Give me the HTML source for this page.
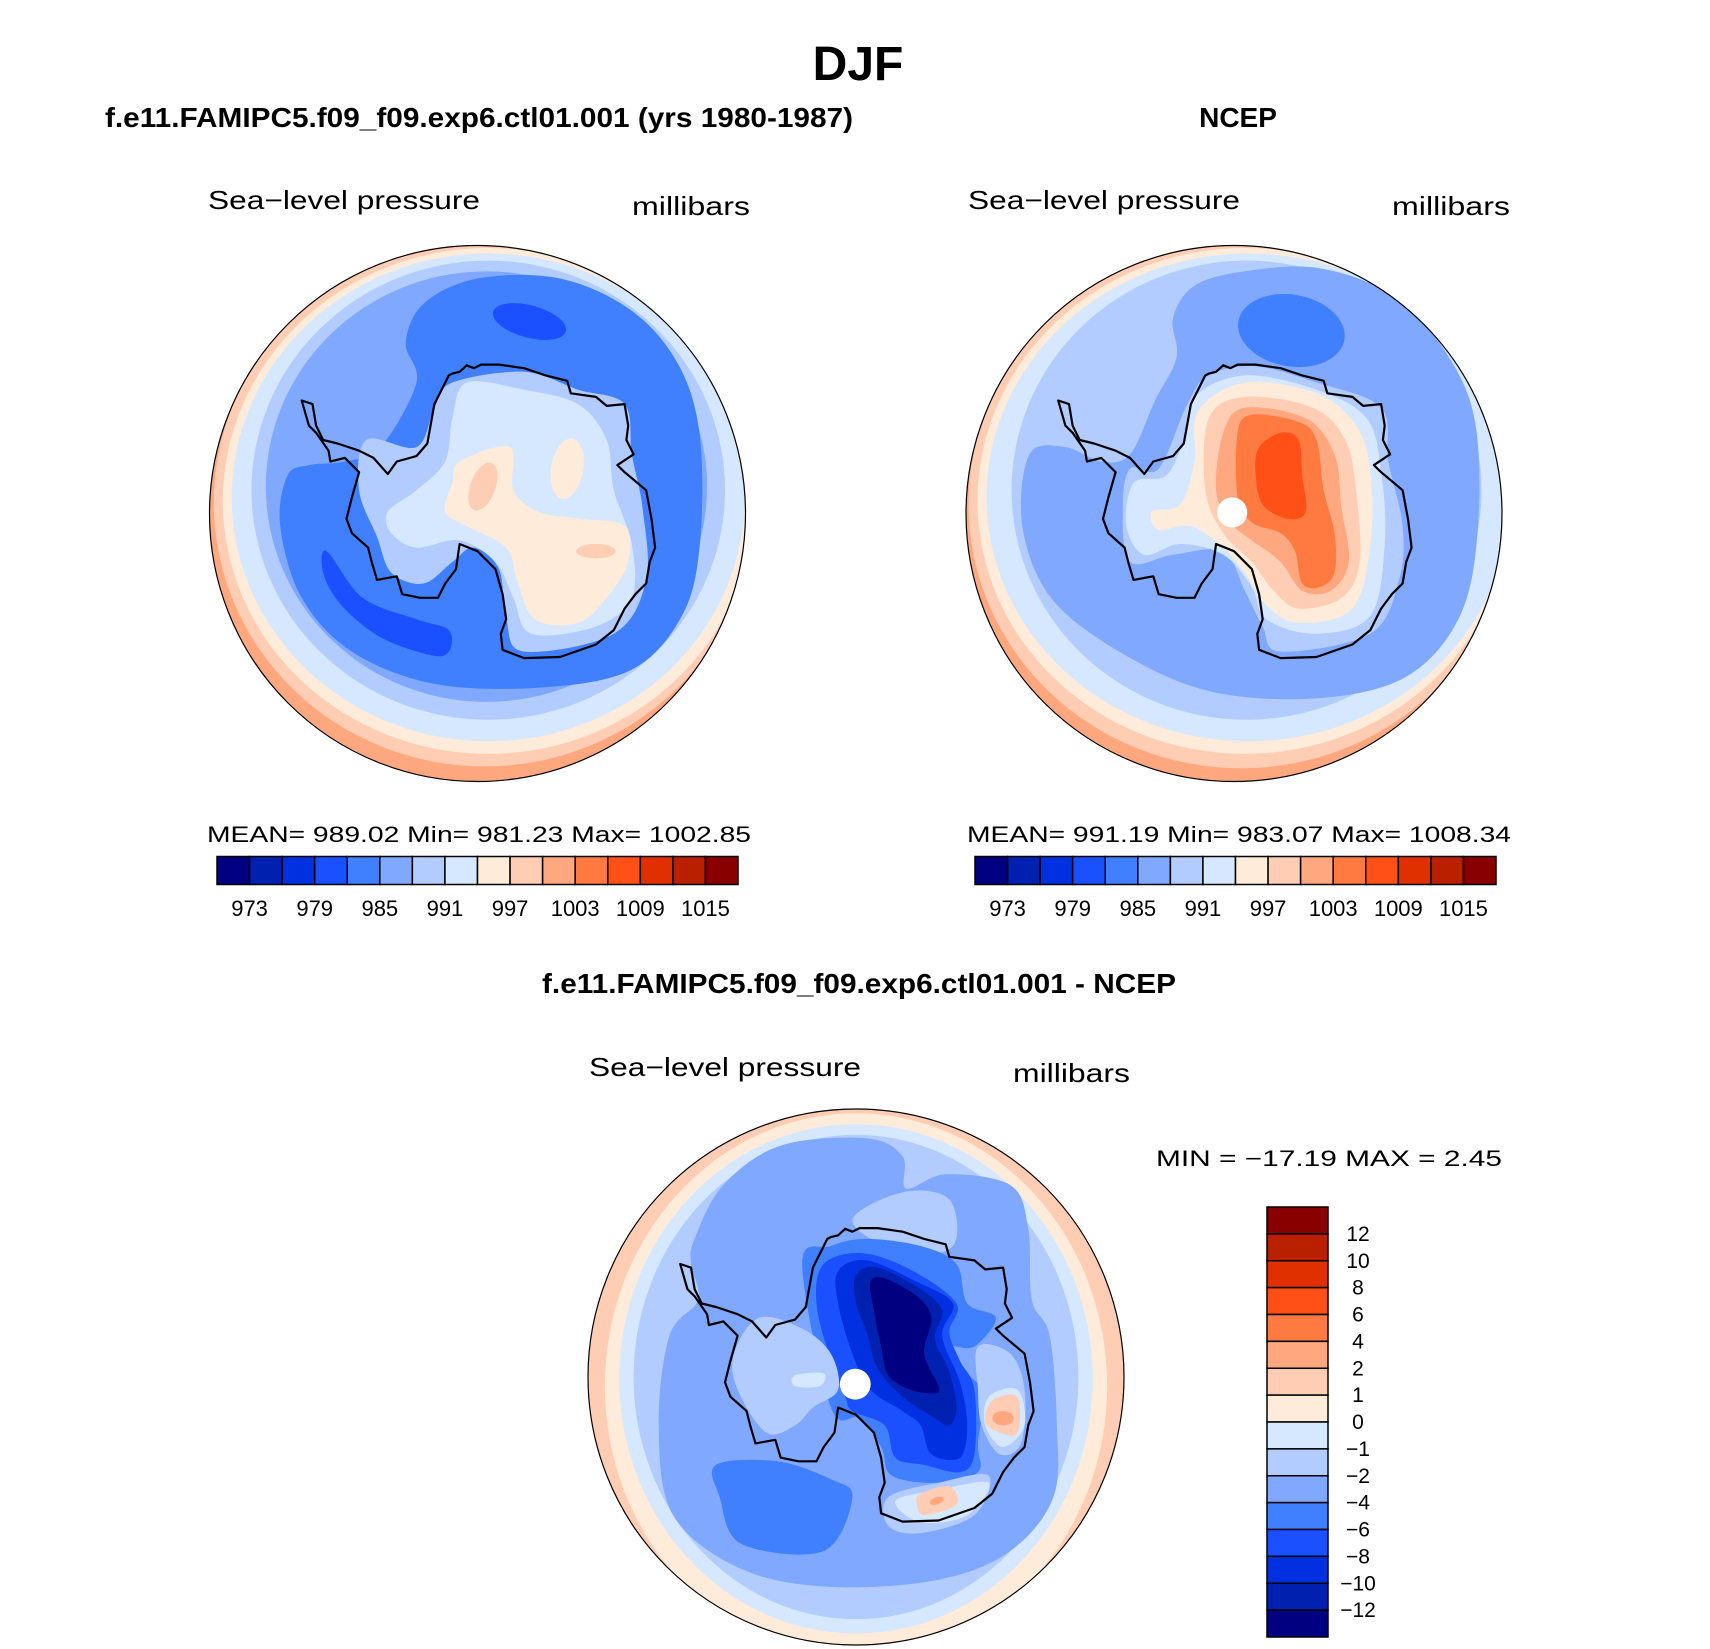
<!DOCTYPE html>
<html><head><meta charset="utf-8"><style>
body{margin:0;background:#fff}
svg{display:block;font-family:"Liberation Sans",sans-serif}
</style></head><body>
<svg id="fig" width="1710" height="1649" viewBox="0 0 1710 1649" xmlns="http://www.w3.org/2000/svg">
<text x="858" y="80" font-size="48" font-weight="bold" text-anchor="middle">DJF</text>
<text x="105" y="127" font-size="28" font-weight="bold" textLength="748" lengthAdjust="spacingAndGlyphs">f.e11.FAMIPC5.f09_f09.exp6.ctl01.001 (yrs 1980-1987)</text>
<text x="1238" y="127" font-size="28" font-weight="bold" text-anchor="middle">NCEP</text>
<text x="859" y="993" font-size="28" font-weight="bold" text-anchor="middle" textLength="634" lengthAdjust="spacingAndGlyphs">f.e11.FAMIPC5.f09_f09.exp6.ctl01.001 - NCEP</text>

<text x="208" y="209" font-size="26" textLength="272" lengthAdjust="spacingAndGlyphs">Sea−level pressure</text>
<text x="632" y="215" font-size="26" textLength="118" lengthAdjust="spacingAndGlyphs">millibars</text>
<text x="968" y="209" font-size="26" textLength="272" lengthAdjust="spacingAndGlyphs">Sea−level pressure</text>
<text x="1392" y="215" font-size="26" textLength="118" lengthAdjust="spacingAndGlyphs">millibars</text>
<text x="589" y="1076" font-size="26" textLength="272" lengthAdjust="spacingAndGlyphs">Sea−level pressure</text>
<text x="1013" y="1082" font-size="26" textLength="117" lengthAdjust="spacingAndGlyphs">millibars</text>

<text x="207" y="842" font-size="22" textLength="544" lengthAdjust="spacingAndGlyphs">MEAN= 989.02   Min= 981.23   Max= 1002.85</text>
<text x="967" y="842" font-size="22" textLength="544" lengthAdjust="spacingAndGlyphs">MEAN= 991.19   Min= 983.07   Max= 1008.34</text>
<text x="1156" y="1166" font-size="22" textLength="346" lengthAdjust="spacingAndGlyphs">MIN = −17.19 MAX =    2.45</text>
<g id="maps"></g>
<g id="bars"></g>
</svg>
<script>
// ---- colour levels ----
const levelColors = ["#000080","#0020b0","#0030e0","#1a50ff","#4080ff","#80a8ff","#b3ccff","#d6e8ff","#ffebd9","#ffcdb3","#ffa880","#ff7a40","#ff5018","#e03000","#b82000","#880000"];
const absTickLabels = ["973","979","985","991","997","1003","1009","1015"];
const diffTickLabels = ["12","10","8","6","4","2","1","0","−1","−2","−4","−6","−8","−10","−12"];

// Antarctic coastline (normalized zoom frame: centre 770,765, radius 747)
const coast = [[690,380],[700,375],[720,370],[740,352],[760,360],[780,350],[830,350],[900,360],[960,380],[1020,395],[1030,430],[1100,440],[1130,465],[1180,460],[1190,520],[1185,560],[1205,600],[1160,630],[1180,650],[1240,700],[1255,780],[1265,860],[1250,900],[1240,960],[1210,990],[1180,1030],[1150,1090],[1100,1130],[1000,1165],[900,1168],[840,1145],[835,1100],[850,1060],[840,990],[820,920],[770,870],[720,850],[710,920],[680,960],[660,1000],[610,1000],[560,990],[545,940],[490,950],[475,900],[465,860],[420,820],[405,780],[420,720],[440,650],[400,610],[360,620],[355,590],[320,540],[300,520],[280,450],[310,460],[320,520],[340,560],[380,570],[440,590],[480,610],[520,655],[545,620],[600,605],[630,570],[650,460],[690,380]];

// contour layers per map: [colorIndex, type, params]
const map1Layers = [
 [10,"c",[770,765,747,747]],[9,"e",[790,735,755,735,0]],[8,"e",[800,730,740,705,0]],[7,"e",[800,720,715,680,0]],[6,"e",[800,700,660,640,0]],[5,"e",[795,690,615,600,0]],
 [4,"p",[[570,290],[620,180],[770,110],[1000,110],[1200,200],[1330,350],[1390,550],[1390,850],[1340,1050],[1200,1200],[950,1250],[650,1240],[420,1150],[280,1000],[220,800],[240,660],[300,630],[400,620],[500,580],[600,400]]],
 [3,"e",[915,230,105,45,15]],
 [3,"p",[[350,870],[450,1000],[600,1060],[690,1090],[690,1150],[640,1160],[500,1110],[390,1020],[340,930]]],
 [6,"p",[[700,400],[900,370],[1050,420],[1180,460],[1200,600],[1230,750],[1240,950],[1150,1100],[900,1150],[850,1060],[830,920],[760,860],[700,900],[620,960],[530,930],[490,830],[440,700],[460,560],[600,580],[650,470]]],
 [7,"p",[[740,400],[900,420],[1050,460],[1130,560],[1150,700],[1200,850],[1200,1000],[1100,1080],[920,1100],[870,1000],[820,900],[720,840],[600,860],[530,820],[520,760],[600,700],[680,620],[700,500]]],
 [8,"p",[[720,620],[860,580],[870,700],[940,760],[1060,780],[1180,800],[1190,900],[1130,1000],[1050,1070],[930,1060],[880,950],[850,860],[740,800],[680,760],[700,680]]],
 [8,"e",[1020,640,45,85,10]],
 [9,"e",[1100,870,55,20,0]],[9,"e",[785,690,35,70,20]]
];
const map2Layers = [
 [10,"c",[770,765,747,747]],[9,"e",[790,740,760,735,0]],[8,"e",[800,730,745,705,0]],[7,"e",[810,720,730,680,0]],[6,"e",[805,700,655,640,0]],
 [5,"p",[[600,220],[660,130],[800,90],[1000,80],[1200,150],[1350,300],[1440,500],[1450,800],[1400,1050],[1250,1220],[1000,1280],[700,1260],[450,1150],[260,1000],[180,800],[200,600],[300,580],[400,620],[480,600],[550,450],[610,330]]],
 [4,"e",[930,255,150,100,10]],
 [6,"p",[[640,460],[700,380],[830,355],[1000,400],[1180,470],[1200,620],[1240,800],[1230,950],[1150,1100],[900,1150],[850,1080],[800,980],[740,870],[600,880],[480,900],[460,750],[480,640],[560,640]]],
 [7,"p",[[660,440],[800,380],[1000,420],[1140,500],[1180,650],[1190,850],[1150,1050],[1000,1100],[860,1060],[820,970],[740,880],[620,850],[520,880],[470,800],[490,680],[580,660],[630,560]]],
 [8,"p",[[670,480],[800,400],[1000,430],[1110,520],[1150,650],[1150,850],[1100,1030],[950,1070],[860,1020],[800,930],[740,860],[650,800],[560,810],[540,760],[620,740],[660,620]]],
 [9,"p",[[700,500],[800,440],[990,470],[1080,560],[1110,700],[1120,900],[1070,1000],[950,1030],[880,980],[820,900],[740,820],[690,700]]],
 [10,"p",[[740,540],[800,470],[970,500],[1050,600],[1070,750],[1090,900],[1040,980],[960,980],[900,900],[820,840],[760,790],[720,700]]],
 [11,"p",[[780,540],[820,490],[950,510],[1000,560],[1020,700],[1050,820],[1050,930],[1010,970],[960,960],[940,870],[900,820],[820,790],[780,720]]],
 [12,"p",[[840,580],[900,540],[950,560],[960,660],[970,760],[920,780],[850,740],[830,650]]]
];
const map3Layers = [
 [9,"c",[770,765,747,747]],[8,"e",[770,790,700,760,0]],[7,"e",[770,770,660,710,0]],[6,"e",[770,765,620,675,0]],
 [5,"p",[[320,380],[400,230],[560,120],[800,100],[900,150],[910,240],[1020,200],[1200,230],[1250,350],[1260,550],[1310,650],[1330,900],[1320,1100],[1200,1250],[1000,1330],[700,1350],[450,1300],[260,1150],[220,900],[250,650],[330,550],[310,450]]],
 [6,"p",[[760,330],[900,250],[1030,270],[1040,400],[900,420]]],
 [4,"p",[[380,1010],[550,1000],[700,1050],[760,1100],[680,1250],[450,1230],[390,1100]]],
 [4,"p",[[620,450],[700,400],[800,380],[950,400],[1050,450],[1080,560],[1160,600],[1100,680],[1030,680],[1020,720],[1120,800],[1110,950],[1110,1030],[1000,1060],[870,1040],[840,960],[780,880],[700,850]]],
 [3,"p",[[680,450],[790,420],[930,470],[1050,560],[1030,640],[1060,720],[1100,800],[1100,980],[1060,1030],[960,1010],[880,990],[850,900],[760,860],[740,820],[700,720],[660,560]]],
 [2,"p",[[720,470],[800,440],[940,500],[1040,560],[1010,650],[1060,780],[1080,900],[1060,990],[980,980],[950,900],[900,860],[810,800],[760,700],[720,560]]],
 [1,"p",[[770,480],[830,460],[950,520],[1010,580],[990,660],[1030,750],[1050,850],[1030,900],[990,880],[900,820],[830,740],[800,640],[770,560]]],
 [0,"p",[[810,500],[850,490],[940,540],[980,600],[960,700],[1000,790],[990,810],[920,800],[860,760],[840,680],[820,580]]],
 [6,"p",[[500,600],[620,630],[700,700],[720,800],[650,850],[600,900],[520,920],[440,800],[430,700]]],
 [7,"p",[[600,760],[680,755],[670,790],[600,790]]],
 [6,"p",[[1110,680],[1200,700],[1240,800],[1230,950],[1170,980],[1120,900],[1110,800]]],
 [7,"p",[[1140,820],[1220,800],[1240,900],[1180,960],[1130,900]]],
 [9,"p",[[1150,830],[1220,820],[1220,920],[1170,920],[1130,890]]],
 [10,"e",[1180,880,30,20,0]],
 [6,"p",[[860,1100],[1000,1060],[1140,1040],[1100,1150],[950,1200],[860,1180]]],
 [7,"p",[[880,1110],[1000,1080],[1140,1060],[1080,1150],[950,1170]]],
 [9,"p",[[950,1090],[1030,1070],[1050,1120],[960,1150],[940,1120]]],
 [10,"e",[995,1110,20,10,-20]]
];
const maps = [
 {name:"model-map",cx:477.5,cy:513.5,r:268,layers:map1Layers,pole:null},
 {name:"ncep-map",cx:1234,cy:513.5,r:268,layers:map2Layers,pole:[765,762,42]},
 {name:"difference-map",cx:856,cy:1377,r:268,layers:map3Layers,pole:[768,785,43]}
];
const NS="http://www.w3.org/2000/svg";
function mk(tag,attrs){const e=document.createElementNS(NS,tag);for(const k in attrs)e.setAttribute(k,attrs[k]);return e;}
function smooth(pts){
  const n=pts.length;let d="M"+pts[0][0].toFixed(1)+","+pts[0][1].toFixed(1);
  for(let i=0;i<n;i++){const p0=pts[(i-1+n)%n],p1=pts[i],p2=pts[(i+1)%n],p3=pts[(i+2)%n];
    const c1=[p1[0]+(p2[0]-p0[0])/6,p1[1]+(p2[1]-p0[1])/6],c2=[p2[0]-(p3[0]-p1[0])/6,p2[1]-(p3[1]-p1[1])/6];
    d+="C"+c1.map(v=>v.toFixed(1))+" "+c2.map(v=>v.toFixed(1))+" "+p2.map(v=>v.toFixed(1));}
  return d+"Z";
}
const mapsG=document.getElementById("maps");
maps.forEach((m,mi)=>{
  const s=m.r/747, tx=x=>m.cx+(x-770)*s, ty=y=>m.cy+(y-765)*s;
  const g=mk("g",{});
  
  
  const clip=mk("clipPath",{id:"clip"+mi});clip.appendChild(mk("circle",{cx:m.cx,cy:m.cy,r:m.r}));g.appendChild(clip);
  const inner=mk("g",{"clip-path":"url(#clip"+mi+")"});
  m.layers.forEach(L=>{
    const col=levelColors[L[0]];let el;
    if(L[1]==="c"||L[1]==="e"){const p=L[2];
      el=mk("ellipse",{cx:tx(p[0]),cy:ty(p[1]),rx:p[2]*s,ry:p[3]*s,fill:col,transform:"rotate("+(p[4]||0)+" "+tx(p[0])+" "+ty(p[1])+")"});}
    else{el=mk("path",{d:smooth(L[2].map(q=>[tx(q[0]),ty(q[1])])),fill:col});}
    
    
    inner.appendChild(el);
  });
  g.appendChild(inner);
  const cl=mk("path",{d:"M"+coast.map(q=>tx(q[0]).toFixed(1)+","+ty(q[1]).toFixed(1)).join("L")+"Z",fill:"none",stroke:"#000","stroke-width":2.2,"stroke-linejoin":"round"});
  
  
  g.appendChild(cl);
  if(m.pole){const pc=mk("circle",{cx:tx(m.pole[0]),cy:ty(m.pole[1]),r:m.pole[2]*s,fill:"#fff"});
    
    
    g.appendChild(pc);}
  const bd=mk("circle",{cx:m.cx,cy:m.cy,r:m.r,fill:"none",stroke:"#000","stroke-width":1.2});
  
  
  g.appendChild(bd);
  mapsG.appendChild(g);
});
// ---- colour bars ----
const barsG=document.getElementById("bars");
[[217,"model-colorbar"],[975,"ncep-colorbar"]].forEach(([x0,nm])=>{
  const g=mk("g",{});
  const w=521/levelColors.length;
  levelColors.forEach((c,i)=>{const r=mk("rect",{x:x0+i*w,y:856.5,width:w,height:28,fill:c,stroke:"#000","stroke-width":1.5});
    g.appendChild(r);});
  absTickLabels.forEach((t,i)=>{const tx=mk("text",{x:x0+(2*i+1)*w,y:916,"font-size":22,"text-anchor":"middle"});tx.textContent=t;
    g.appendChild(tx);});
  barsG.appendChild(g);
});
(function(){
  const g=mk("g",{});
  const h=430/levelColors.length;
  levelColors.slice().reverse().forEach((c,i)=>{const r=mk("rect",{x:1267,y:1207+i*h,width:61,height:h,fill:c,stroke:"#000","stroke-width":1.5});
    g.appendChild(r);});
  diffTickLabels.forEach((t,i)=>{const tx=mk("text",{x:1358,y:1207+(i+1)*h+7,"font-size":21,"text-anchor":"middle"});tx.textContent=t;
    g.appendChild(tx);});
  barsG.appendChild(g);
})();
</script>
</body></html>
